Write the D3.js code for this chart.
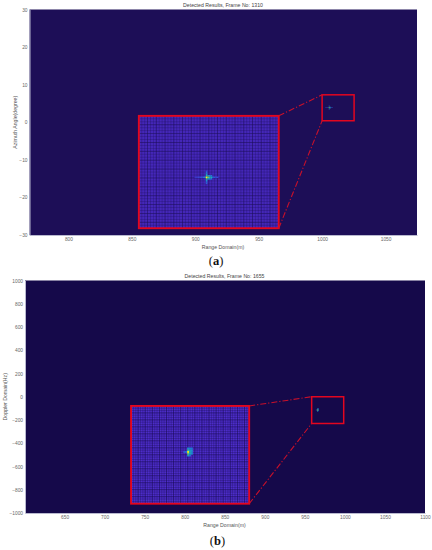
<!DOCTYPE html>
<html><head><meta charset="utf-8">
<script src="https://cdn.jsdelivr.net/npm/d3@7"></script>
<style>html,body{margin:0;padding:0;background:#fff}svg{display:block}text{font-family:"Liberation Sans",Arial,sans-serif}</style>
</head><body><svg id="c" width="432" height="550"></svg>
<script>
// ---------- data ----------
const titleA = "Detected Results, Frame No: 1310";
const titleB = "Detected Results, Frame No: 1655";
const xLabel = "Range Domain(m)";
const yLabelA = "Azimuth Angle(degree)";
const yLabelB = "Doppler Domain(Hz)";
const xTicksA = [800, 850, 900, 950, 1000, 1050];
const yTicksA = [30, 20, 10, 0, -10, -20, -30];
const xTicksB = [650, 700, 750, 800, 850, 900, 950, 1000, 1050, 1100];
const yTicksB = [1000, 800, 600, 400, 200, 0, -200, -400, -600, -800, -1000];
const xDomainA = [769.3, 1074.8];
const yDomainA = [-30, 30];
const xDomainB = [600.6, 1100];
const yDomainB = [-1000, 1000];
// zoom boxes in data units: [x0, x1, y0, y1]
const smallBoxA = [1000, 1025.2, 0.4, 7.3];
const bigBoxA = [855.5, 965.8, -28.2, 1.7];
const smallBoxB = [958.5, 998.5, -230, 0];
const bigBoxB = [733, 880.5, -920, -79];
// detection peak: [col offset, row offset, value 0..1] in peak cells
const peakA = [[0,0,1],[1,0,.72],[-1,0,.42],[2,0,.55],[3,0,.5],[4,0,.3],[5,0,.22],[6,0,.2],[7,0,.18],[-2,0,.28],[-3,0,.22],[-4,0,.2],[-5,0,.18],[-6,0,.16],[-7,0,.14],
 [0,-1,.55],[0,1,.62],[0,-2,.42],[0,2,.4],[0,-3,.3],[0,3,.3],[0,-4,.22],[0,4,.24],[1,-1,.42],[1,1,.46],[2,-1,.4],[2,1,.4],[3,-1,.32],[3,1,.32]];
const peakB = [[0,0,1],[0,1,.7],[0,-1,.58],[1,0,.5],[1,1,.46],[1,-1,.42],[-1,0,.32],[2,0,.38],[2,1,.38],[2,-1,.38],[0,2,.42],[1,2,.3],[0,-2,.36],[1,-2,.34],[2,-2,.3],[-2,0,.24]];
const peakCellA = [1.6, 1.5];
const peakCellB = [1.9, 1.8];
const peakPosA = [908.9, -14.65];    // peak position seen through the big box
const peakPosB = [804.2, -475];
const spotA = [1005.5, 3.9];         // peak position in the small box
const spotB = [965.6, -114];
const gridCountA = [48, 38];
const gridCountB = [50, 42];
const parula = ["#2a1a8e","#3d3fd0","#1f7fd8","#18b0b8","#4fc878","#c8c83a","#fff314"];

// ---------- drawing ----------
const svg = d3.select("#c");
const color = d3.scaleLinear().domain(parula.map((d,i)=>i/(parula.length-1))).range(parula).clamp(true);

function panel(o){
  const x = d3.scaleLinear().domain(o.xd).range(o.xr);
  const y = d3.scaleLinear().domain(o.yd).range(o.yr);
  const g = svg.append("g");
  g.append("rect").attr("x",o.xr[0]).attr("y",o.yr[1]).attr("width",o.xr[1]-o.xr[0]).attr("height",o.yr[0]-o.yr[1]).attr("fill",o.bg);

  const ax = g.append("g").attr("transform",`translate(0,${o.yr[0]})`).call(d3.axisBottom(x).tickValues(o.xt).tickSize(0).tickPadding(2.5).tickFormat(d3.format("d")));
  const ay = g.append("g").attr("transform",`translate(${o.xr[0]},0)`).call(d3.axisLeft(y).tickValues(o.yt).tickSize(0).tickPadding(2).tickFormat(d3.format("d")));
  [ax,ay].forEach(a=>{a.select(".domain").attr("stroke","#b9b9cf").attr("stroke-width",1);a.selectAll("text").attr("font-size",4.8).attr("fill","#666");});
  g.append("text").attr("x",o.tx).attr("y",o.yr[1]-3).attr("text-anchor","middle").attr("font-size",5.2).attr("fill","#444").text(o.title);
  g.append("text").attr("x",o.tx).attr("y",o.yr[0]+13.5).attr("text-anchor","middle").attr("font-size",5.2).attr("fill","#555").text(xLabel);
  g.append("text").attr("transform",`translate(${o.yl},${(o.yr[0]+o.yr[1])/2}) rotate(-90)`).attr("text-anchor","middle").attr("font-size",5.2).attr("fill","#555").text(o.ylabel);

  // inset grid
  const [bx0,bx1,by0,by1] = o.big;
  const sx = d3.scaleLinear().domain([0,o.grid[0]]).range([x(bx0),x(bx1)]);
  const sy = d3.scaleLinear().domain([0,o.grid[1]]).range([y(by1),y(by0)]);
  g.append("rect").attr("x",x(bx0)).attr("y",y(by1)).attr("width",x(bx1)-x(bx0)).attr("height",y(by0)-y(by1)).attr("fill",o.cell);
  g.selectAll(null).data(d3.range(o.grid[0]+1)).join("line")
    .attr("x1",d=>sx(d)).attr("x2",d=>sx(d)).attr("y1",y(by1)).attr("y2",y(by0))
    .attr("stroke",o.line).attr("stroke-width",.7).attr("opacity",d=>d%3===0?.8:.4);
  g.selectAll(null).data(d3.range(o.grid[1]+1)).join("line")
    .attr("y1",d=>sy(d)).attr("y2",d=>sy(d)).attr("x1",x(bx0)).attr("x2",x(bx1))
    .attr("stroke",o.line).attr("stroke-width",.7).attr("opacity",d=>d%3===0?.8:.4);
  // peak seen in inset (drawn lowest value first)
  const cw = o.pc[0], ch = o.pc[1];
  const sorted = o.peak.slice().sort((a,b)=>a[2]-b[2]);
  g.selectAll(null).data(sorted).join("rect")
    .attr("x",d=>x(o.pos[0])+d[0]*cw-cw/2).attr("y",d=>y(o.pos[1])+d[1]*ch-ch/2)
    .attr("width",cw).attr("height",ch).attr("fill",d=>color(d[2]));
  // same peak in the small box, scaled through the zoom factor
  const [tx0,tx1,ty0,ty1] = o.small;
  const kx = .32, ky = .36;
  g.selectAll(null).data(sorted).join("rect")
    .attr("x",d=>x(o.spot[0])+(d[0]-.5)*cw*kx).attr("y",d=>y(o.spot[1])+(d[1]-.5)*ch*ky)
    .attr("width",cw*kx).attr("height",ch*ky).attr("fill",d=>color(d[2]));
  // boxes
  const red = "#e3061f";
  g.append("rect").attr("x",x(bx0)).attr("y",y(by1)).attr("width",x(bx1)-x(bx0)).attr("height",y(by0)-y(by1)).attr("fill","none").attr("stroke",red).attr("stroke-width",1.9);
  g.append("rect").attr("x",x(tx0)).attr("y",y(ty1)).attr("width",x(tx1)-x(tx0)).attr("height",y(ty0)-y(ty1)).attr("fill","none").attr("stroke",red).attr("stroke-width",1.5);
  [[bx1,by1,tx0,ty1],[bx1,by0,tx0,ty0]].forEach(l=>{
    g.append("line").attr("x1",x(l[0])).attr("y1",y(l[1])).attr("x2",x(l[2])).attr("y2",y(l[3]))
     .attr("stroke","#c8102a").attr("stroke-width",1.1).attr("stroke-dasharray","6 2 1.2 2");
  });
  svg.append("text").attr("x",o.tx-7).attr("y",o.capY).attr("text-anchor","middle").style("font-family","'Liberation Serif',serif").attr("font-size",12.5).attr("fill","#111")
    .html(`(<tspan font-weight="bold">${o.cap}</tspan>)`);
}

panel({xd:xDomainA,yd:yDomainA,xr:[29.5,417],yr:[235,9.5],xt:xTicksA,yt:yTicksA,bg:"#1d0e57",cell:"#4427b8",line:"#1d0e57",tx:223,
  title:titleA,ylabel:yLabelA,yl:17,big:bigBoxA,small:smallBoxA,grid:gridCountA,peak:peakA,pc:peakCellA,pos:peakPosA,spot:spotA,cap:"a",capY:265});
panel({xd:xDomainB,yd:yDomainB,xr:[25,425],yr:[513,280.5],xt:xTicksB,yt:yTicksB,bg:"#15094a",cell:"#4c2dc8",line:"#15094a",tx:224.5,
  title:titleB,ylabel:yLabelB,yl:7,big:bigBoxB,small:smallBoxB,grid:gridCountB,peak:peakB,pc:peakCellB,pos:peakPosB,spot:spotB,cap:"b",capY:545});
</script></body></html>
